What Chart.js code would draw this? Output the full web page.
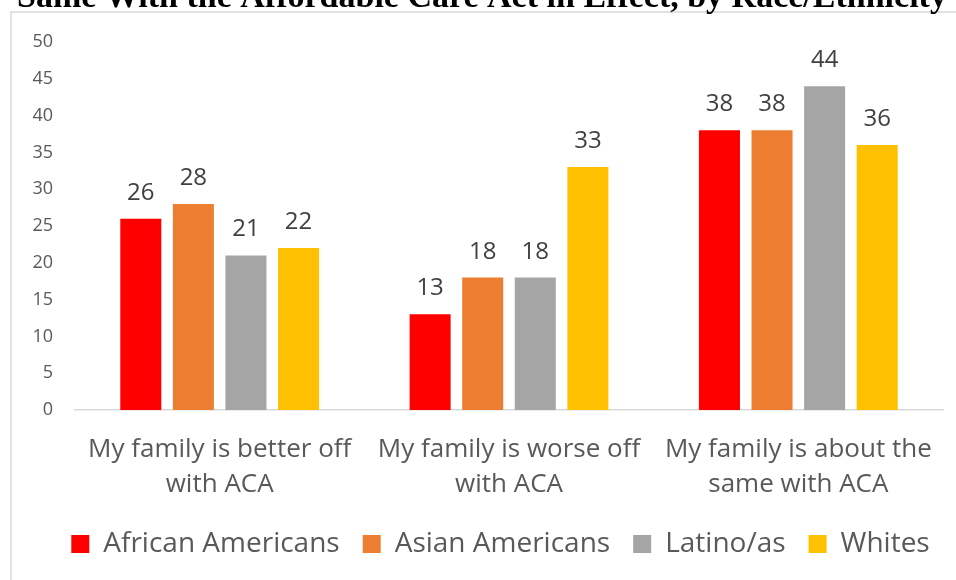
<!DOCTYPE html>
<html>
<head>
<meta charset="utf-8">
<script src="https://cdn.jsdelivr.net/npm/chart.js@4/dist/chart.umd.min.js"></script>
<style>
  html, body { margin: 0; padding: 0; background: #ffffff; }
  #wrap { position: relative; width: 956px; height: 580px; }
</style>
</head>
<body>
<div id="wrap"><canvas id="c" width="956" height="580"></canvas></div>
<script>
// Survey answers about the Affordable Care Act, share of respondents (%) by group
const titleText = 'Same With the Affordable Care Act in Effect, by Race/Ethnicity';
const categories = [
  ['My family is better off', 'with ACA'],
  ['My family is worse off', 'with ACA'],
  ['My family is about the', 'same with ACA']
];
const groups = ['African Americans', 'Asian Americans', 'Latino/as', 'Whites'];
const africanAmericans = [26, 13, 38];
const asianAmericans = [28, 18, 38];
const latinos = [21, 18, 44];
const whites = [22, 33, 36];
const colors = ['#FF0000', '#ED7D31', '#A5A5A5', '#FFC000'];
const yTicks = { min: 0, max: 50, step: 5 };

const FONT = '"Open Sans"';
const TEXT = '#595959';

// frame line and the clipped heading above it
const framePlugin = {
  id: 'frame',
  beforeDraw(chart) {
    const ctx = chart.ctx;
    ctx.save();
    ctx.fillStyle = '#ffffff';
    ctx.fillRect(0, 0, chart.width, chart.height);
    ctx.strokeStyle = '#d9d9d9';
    ctx.lineWidth = 1.5;
    ctx.beginPath();
    ctx.moveTo(11, chart.height);
    ctx.lineTo(11, 12);
    ctx.lineTo(chart.width, 12);
    ctx.stroke();
    ctx.fillStyle = '#000000';
    ctx.font = 'bold 34px "Liberation Serif"';
    ctx.textAlign = 'center';
    ctx.textBaseline = 'alphabetic';
    ctx.fillText(titleText, 482, 7);
    ctx.restore();
  }
};

// centre the legend row under the plot instead of the whole canvas
const legendShift = {
  id: 'legendShift',
  afterLayout(chart) {
    if (chart.legend) {
      chart.legend.left += 29;
      chart.legend.right += 29;
    }
  }
};

// value written above each bar
const valueLabels = {
  id: 'valueLabels',
  afterDatasetsDraw(chart) {
    const ctx = chart.ctx;
    ctx.save();
    ctx.fillStyle = '#404040';
    ctx.font = '24px ' + FONT;
    ctx.textAlign = 'center';
    ctx.textBaseline = 'alphabetic';
    chart.data.datasets.forEach((ds, i) => {
      chart.getDatasetMeta(i).data.forEach((bar, j) => {
        ctx.fillText(String(ds.data[j]), bar.x, bar.y - 19);
      });
    });
    ctx.restore();
  }
};

const seriesValues = [africanAmericans, asianAmericans, latinos, whites];

new Chart(document.getElementById('c'), {
  type: 'bar',
  data: {
    labels: categories,
    datasets: groups.map((g, i) => ({
      label: g,
      data: seriesValues[i],
      backgroundColor: colors[i],
      borderWidth: 0,
      categoryPercentage: 0.727,
      barPercentage: 0.78
    }))
  },
  options: {
    responsive: false,
    animation: false,
    layout: { padding: { left: 0, right: 13, top: 42, bottom: 12 } },
    scales: {
      x: {
        grid: { display: false, drawTicks: false },
        border: { display: true, color: '#d9d9d9', width: 1.5 },
        ticks: { color: TEXT, font: { family: FONT, size: 26, lineHeight: 1.35 }, padding: 22, maxRotation: 0, autoSkip: false },
        afterFit(scale) { scale.height = 97; }
      },
      y: {
        min: yTicks.min,
        max: yTicks.max,
        grid: { display: false, drawTicks: false },
        border: { display: false },
        ticks: { stepSize: yTicks.step, color: TEXT, font: { family: FONT, size: 18 }, padding: 22 },
        afterFit(scale) { scale.width = 75; }
      }
    },
    plugins: {
      legend: {
        position: 'bottom',
        labels: { color: TEXT, font: { family: FONT, size: 28 }, boxWidth: 18, boxHeight: 18, padding: 23 }
      },
      tooltip: { enabled: false },
      title: { display: false }
    }
  },
  plugins: [framePlugin, legendShift, valueLabels]
});
</script>
</body>
</html>
